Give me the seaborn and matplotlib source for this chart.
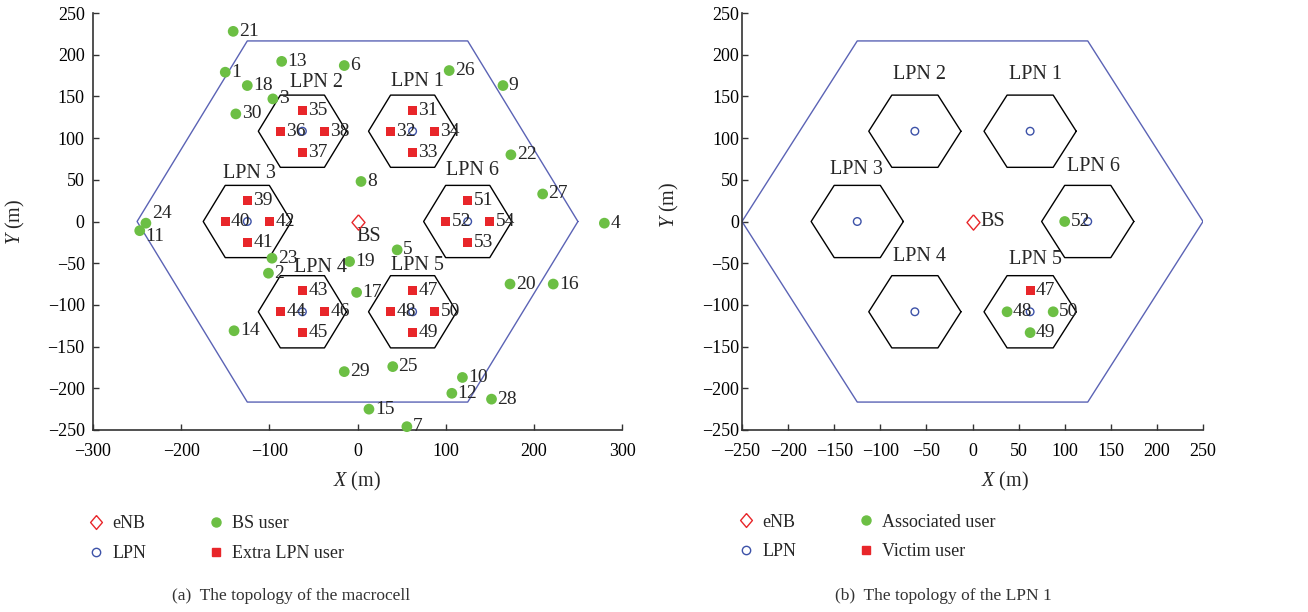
import numpy as np
import pandas as pd
import seaborn as sns
import matplotlib
matplotlib.use("Agg")
import matplotlib.pyplot as plt
from matplotlib.lines import Line2D

# ---------------- data ----------------
macro_radius = 250
lpn_radius = 50
lpn_names = ["LPN 1", "LPN 2", "LPN 3", "LPN 4", "LPN 5", "LPN 6"]
lpn_x = [62.5, -62.5, -125.0, -62.5, 62.5, 125.0]
lpn_y = [108.25, 108.25, 0.0, -108.25, -108.25, 0.0]
lpn_label_x_a = [68, -46, -123, -42, 68, 131]
lpn_label_y_a = [168, 167, 58, -55, -53, 61]
lpn_label_x_b = [68, -57, -126, -57, 68, 131]
lpn_label_y_b = [176, 176, 62, -42, -46, 66]

bs_x, bs_y = [0.0], [0.0]

bs_user_id = list(range(1, 31))
bs_user_x = [-150, -101, -96, 280, 45, -15, 56, 4, 165, 119,
             -247, 107, -86, -140, 13, 222, -1, -125, -9, 173,
             -141, 174, -97, -240, 40, 104, 210, 152, -15, -138]
bs_user_y = [179, -62, 147, -2, -34, 187, -246, 48, 163, -187,
             -11, -206, 192, -131, -225, -75, -85, 163, -48, -75,
             228, 80, -44, -2, -174, 181, 33, -213, -180, 129]
# labels nudged vertically (points) to avoid overlap, as in the original
label_nudge = {24: 7, 11: -4}

extra_id = list(range(31, 55))
extra_x = [62.5, 37.5, 62.5, 87.5, -62.5, -87.5, -62.5, -37.5,
           -125, -150, -125, -100, -62.5, -87.5, -62.5, -37.5,
           62.5, 37.5, 62.5, 87.5, 125, 100, 125, 150]
extra_y = [133.25, 108.25, 83.25, 108.25, 133.25, 108.25, 83.25, 108.25,
           25, 0, -25, 0, -83.25, -108.25, -133.25, -108.25,
           -83.25, -108.25, -133.25, -108.25, 25, 0, -25, 0]

assoc_id = [48, 49, 50, 52]
assoc_x = [37.5, 62.5, 87.5, 100]
assoc_y = [-108.25, -133.25, -108.25, 0]
victim_id = [47]
victim_x = [62.5]
victim_y = [-83.25]

# ---------------- style ----------------
sns.set_theme(style="ticks")
plt.rcParams["font.family"] = ["Liberation Serif", "DejaVu Serif"]
plt.rcParams["mathtext.fontset"] = "custom"
plt.rcParams["mathtext.it"] = "Liberation Serif:italic"
plt.rcParams["mathtext.rm"] = "Liberation Serif"
plt.rcParams["axes.unicode_minus"] = True

GREEN = "#6cbf44"
RED = "#e8262a"
BLUE = "#3d52a8"
MACRO = "#5b63b5"
DIAMOND = [(0, 1), (0.85, 0), (0, -1), (-0.85, 0), (0, 1)]

fig = plt.figure(figsize=(13.08, 6.12), dpi=100)
W, H = 1308, 612
ax_a = fig.add_axes([93 / W, 1 - 430 / H, 529 / W, 417 / H])
ax_b = fig.add_axes([742 / W, 1 - 430 / H, 461 / W, 417 / H])


def hexagon(cx, cy, r):
    ang = np.deg2rad(np.arange(0, 361, 60))
    return cx + r * np.cos(ang), cy + r * np.sin(ang)


def draw_frame(ax, label_x, label_y):
    hx, hy = hexagon(0, 0, macro_radius)
    ax.plot(hx, hy, color=MACRO, lw=1.0, zorder=1)
    for cx, cy, name, tx, ty in zip(lpn_x, lpn_y, lpn_names, label_x, label_y):
        px, py = hexagon(cx, cy, lpn_radius)
        ax.plot(px, py, color="black", lw=1.0, zorder=1)
        ax.text(tx, ty, name, ha="center", va="center", fontsize=14.5, zorder=5)
    sns.scatterplot(x=lpn_x, y=lpn_y, ax=ax, marker="o", s=30,
                    facecolors="none", edgecolor=BLUE, linewidth=1.0, zorder=3)
    ax.plot(bs_x, bs_y, linestyle="none", marker=DIAMOND, markersize=11,
            markerfacecolor="none", markeredgecolor=RED, markeredgewidth=1.0, zorder=4)


def draw_users(ax, xs, ys, ids, color, marker, size):
    df = pd.DataFrame({"x": xs, "y": ys})
    sns.scatterplot(data=df, x="x", y="y", ax=ax, color=color, marker=marker,
                    s=size, edgecolor="none", linewidth=0, zorder=4, clip_on=False)
    for xi, yi, i in zip(xs, ys, ids):
        ax.annotate(str(i), (xi, yi), xytext=(4.2, label_nudge.get(i, 0)),
                    textcoords="offset points",
                    ha="left", va="center", fontsize=14, zorder=6,
                    annotation_clip=False)


# panel (a)
draw_frame(ax_a, lpn_label_x_a, lpn_label_y_a)
draw_users(ax_a, bs_user_x, bs_user_y, bs_user_id, GREEN, "o", 60)
draw_users(ax_a, extra_x, extra_y, extra_id, RED, "s", 42)
ax_a.text(bs_x[0] + 13, bs_y[0] - 17.5, "BS", ha="center", va="center", fontsize=14.5)
ax_a.set_xlim(-300, 300)
ax_a.set_ylim(-250, 250)
ax_a.set_xticks(np.arange(-300, 301, 100))
ax_a.set_yticks(np.arange(-250, 251, 50))

# panel (b)
draw_frame(ax_b, lpn_label_x_b, lpn_label_y_b)
draw_users(ax_b, assoc_x, assoc_y, assoc_id, GREEN, "o", 60)
draw_users(ax_b, victim_x, victim_y, victim_id, RED, "s", 42)
ax_b.annotate("BS", (bs_x[0], bs_y[0]), xytext=(6, 0), textcoords="offset points",
              ha="left", va="center", fontsize=14.5)
ax_b.set_xlim(-250, 250)
ax_b.set_ylim(-250, 250)
ax_b.set_xticks(np.arange(-250, 251, 50))
ax_b.set_yticks(np.arange(-250, 251, 50))

for ax, ypad, xl, yl in [(ax_a, 6, (0.5, -0.097), (-0.125, 0.5)),
                         (ax_b, 2, (0.57, -0.097), (-0.132, 0.54))]:
    sns.despine(ax=ax)
    for sp in ["left", "bottom"]:
        ax.spines[sp].set_linewidth(1.2)
        ax.spines[sp].set_color("#333333")
    ax.tick_params(axis="both", direction="in", length=4, width=1, color="#333333",
                   labelsize=13, labelcolor="black")
    ax.tick_params(axis="y", pad=ypad)
    ax.tick_params(axis="x", pad=9)
    ax.set_xlabel("$X$ (m)", fontsize=14.5)
    ax.set_ylabel("$Y$ (m)", fontsize=14.5)
    ax.xaxis.set_label_coords(*xl)
    ax.yaxis.set_label_coords(*yl)
    ax.grid(False)


def mk(marker, face, edge, ms):
    return Line2D([], [], linestyle="none", marker=marker, markersize=ms,
                  markerfacecolor=face, markeredgecolor=edge, markeredgewidth=1.0)


h_enb = mk(DIAMOND, "none", RED, 10)
h_lpn = mk("o", "none", BLUE, 6)
h_green = mk("o", GREEN, GREEN, 6.5)
h_red = mk("s", RED, RED, 5.5)

leg_kw = dict(loc="center left", frameon=False, fontsize=13, handlelength=1.0,
              handletextpad=0.4, borderpad=0, borderaxespad=0, labelspacing=0.7)
cy_a = 1 - 538.5 / H
cy_b = 1 - 537.0 / H
fig.legend([h_enb, h_lpn], ["eNB", "LPN"], bbox_to_anchor=(87 / W, cy_a), **leg_kw)
fig.legend([h_green, h_red], ["BS user", "Extra LPN user"], bbox_to_anchor=(207 / W, cy_a), **leg_kw)
fig.legend([h_enb, h_lpn], ["eNB", "LPN"], bbox_to_anchor=(737 / W, cy_b), **leg_kw)
fig.legend([h_green, h_red], ["Associated user", "Victim user"], bbox_to_anchor=(857 / W, cy_b), **leg_kw)

fig.text(291.5 / W, 1 - 596 / H, "(a)  The topology of the macrocell",
         ha="center", va="center", fontsize=12.5, color="#333333")
fig.text(943 / W, 1 - 596 / H, "(b)  The topology of the LPN 1",
         ha="center", va="center", fontsize=12.5, color="#333333")

fig.savefig("out.png", dpi=100)
